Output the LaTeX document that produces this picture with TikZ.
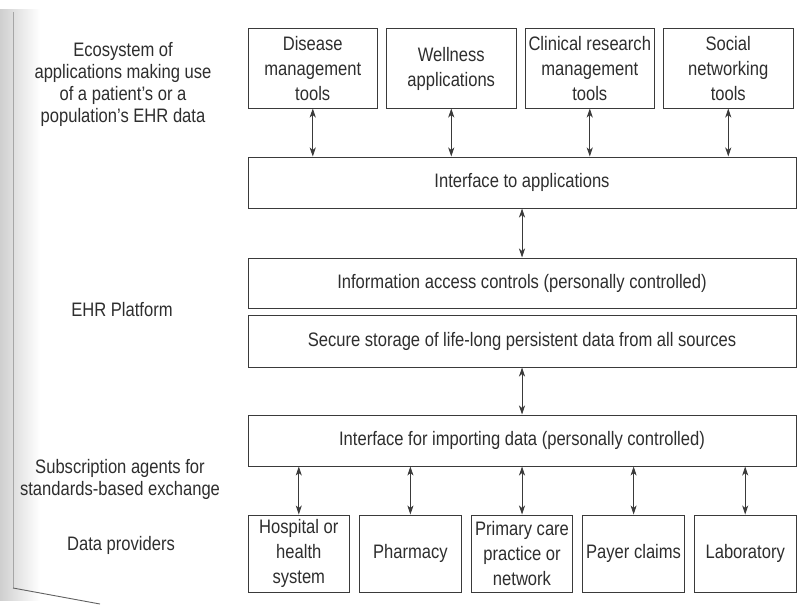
\documentclass[tikz,border=0pt]{standalone}
\usepackage{fontspec}
\setmainfont{Liberation Sans}[FakeStretch=0.85]
\usetikzlibrary{arrows.meta}
\definecolor{ink}{HTML}{2E2E2E}
\definecolor{rule}{HTML}{3A3A3A}
\definecolor{paperedge}{HTML}{CFCFCF}
\begin{document}
\begin{tikzpicture}[x=1pt,y=-1pt,
  box/.style={draw=rule, line width=1pt, align=center, inner sep=0pt,
    text=ink, font=\fontsize{19.5}{25}\selectfont},
  appbox/.style={box, minimum width=129.5pt, minimum height=79pt},
  srcbox/.style={box, minimum width=101.6pt, minimum height=77pt},
  bar/.style={box, minimum width=548pt, minimum height=51pt},
  sidelabel/.style={align=center, text=ink, inner sep=0pt,
    font=\fontsize{19.5}{22}\selectfont},
  link/.style={draw=rule, line width=0.8pt,
    {Stealth[length=9pt,width=6pt,inset=2.5pt]}-{Stealth[length=9pt,width=6pt,inset=2.5pt]}}]

\useasboundingbox (0,0) rectangle (799,610);
\fill[white] (0,0) rectangle (799,610);

% scanned page edge at the left
\shade[left color=paperedge, right color=white] (0,10) rectangle (40,600);
\draw[rule!45, line width=0.7pt] (13,12) -- (13,588);
\draw[rule!80, line width=0.9pt] (13,588) -- (100,604);

% application layer
\node[appbox] (dis) at (312.75,68.5) {Disease\\management\\tools};
\node[appbox] (wel) at (451.25,68.5) {Wellness\\applications};
\node[appbox] (cli) at (589.75,68.5) {Clinical research\\management\\tools};
\node[appbox] (soc) at (728.25,68.5) {Social\\networking\\tools};

\node[bar] (apps) at (522,182.5) {Interface to applications};

% EHR platform
\node[bar, minimum height=50pt] (acc) at (522,283) {Information access controls (personally controlled)};
\node[bar, minimum height=52pt] (sto) at (522,341) {Secure storage of life-long persistent data from all sources};

\node[bar] (imp) at (522,440.5) {Interface for importing data (personally controlled)};

% data providers
\node[srcbox] (hos) at (298.8,553.5) {Hospital or\\health\\system};
\node[srcbox] (pha) at (410.4,553.5) {Pharmacy};
\node[srcbox] (pri) at (522,553.5) {Primary care\\practice or\\network};
\node[srcbox] (pay) at (633.6,553.5) {Payer claims};
\node[srcbox] (lab) at (745.2,553.5) {Laboratory};

% connectors
\foreach \n in {dis,wel,cli,soc}
  \draw[link] (\n.south) -- (\n.south |- apps.north);
\draw[link] (apps.south) -- (acc.north);
\draw[link] (sto.south) -- (imp.north);
\foreach \n in {hos,pha,pri,pay,lab}
  \draw[link] (\n.north |- imp.south) -- (\n.north);

% layer labels
\node[sidelabel] (eco) at (123,84) {Ecosystem of\\applications making use\\of a patient's or a\\population's EHR data};
\node[sidelabel] (ehr) at (122,310) {EHR Platform};
\node[sidelabel] (sub) at (120,479) {Subscription agents for\\standards-based exchange};
\node[sidelabel] (dat) at (121,545) {Data providers};
\end{tikzpicture}
\end{document}
